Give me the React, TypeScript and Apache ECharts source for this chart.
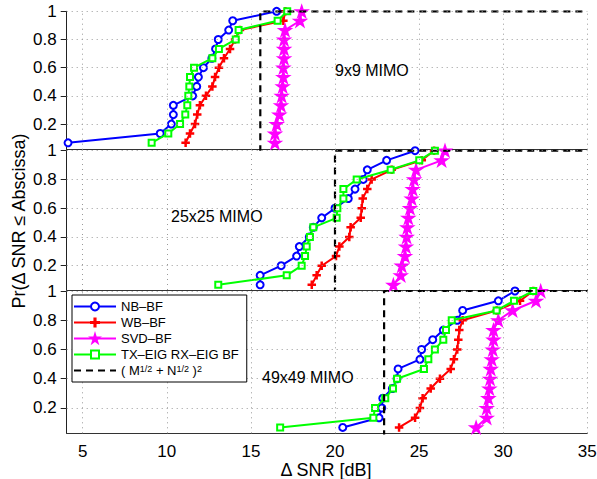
import React, { useEffect, useRef } from "react";
import * as echarts from "echarts";

// ---------- data ----------
const PROB = [0.067, 0.133, 0.2, 0.267, 0.333, 0.4, 0.467, 0.533, 0.6, 0.667, 0.733, 0.8, 0.867, 0.933, 1];

const NB_9 = [4.13, 9.61, 10.27, 10.39, 10.39, 11.54, 11.78, 11.88, 12.18, 12.68, 12.9, 13.06, 13.68, 13.92, 16.53];
const WB_9 = [11.12, 11.38, 11.68, 11.81, 11.97, 12.33, 12.71, 12.87, 13.1, 13.4, 13.76, 14.06, 14.35, 16.93, 17.05];
const SVD_9 = [16.43, 16.43, 16.53, 16.69, 16.79, 16.83, 16.89, 16.93, 16.93, 16.97, 16.97, 16.97, 17.03, 17.92, 18.02];
const TX_9 = [9.1, 10.09, 10.79, 11.1, 11.22, 11.28, 11.34, 11.38, 11.62, 12.71, 13.1, 14.1, 14.27, 16.59, 17.16];

const NB_25 = [15.55, 15.55, 16.8, 17.72, 17.88, 18.47, 18.71, 19.21, 20.0, 20.79, 21.19, 21.68, 21.92, 23.07, 24.76];
const WB_25 = [18.62, 18.91, 19.21, 20.06, 20.26, 20.85, 20.93, 21.53, 21.59, 21.65, 21.92, 22.18, 23.37, 25.16, 25.89];
const SVD_25 = [23.47, 23.91, 23.97, 24.16, 24.22, 24.26, 24.3, 24.36, 24.46, 24.56, 24.62, 24.7, 24.82, 26.34, 26.54];
const TX_25 = [13.06, 17.13, 18.02, 18.22, 18.32, 18.51, 18.71, 20.1, 20.14, 20.5, 20.5, 21.29, 23.31, 25.01, 25.94];

const NB_49 = [20.46, 22.62, 22.78, 22.84, 23.41, 23.69, 23.75, 25.05, 25.15, 25.81, 26.44, 27.27, 27.59, 29.71, 30.7];
const WB_49 = [23.81, 24.76, 25.05, 25.21, 25.69, 26.24, 26.88, 27.07, 27.27, 27.33, 27.39, 27.59, 29.61, 31.0, 31.79];
const SVD_49 = [28.39, 29.02, 29.02, 29.12, 29.18, 29.22, 29.26, 29.32, 29.38, 29.42, 29.42, 29.71, 30.56, 31.95, 32.23];
const TX_49 = [16.74, 22.28, 22.38, 22.99, 23.45, 23.69, 25.29, 25.55, 25.94, 26.44, 26.6, 26.94, 29.61, 30.64, 31.79];

const BOUNDS = [15.56, 20, 22.92];
const PANEL_LABELS = ["9x9 MIMO", "25x25 MIMO", "49x49 MIMO"];
const SERIES_NAMES = ["NB\u2013BF", "WB\u2013BF", "SVD\u2013BF", "TX\u2013EIG RX\u2013EIG BF"];
const BOUND_NAME = "( M^1/2 + N^1/2 )^2";
const PANEL_DATA = [
  [NB_9, WB_9, SVD_9, TX_9],
  [NB_25, WB_25, SVD_25, TX_25],
  [NB_49, WB_49, SVD_49, TX_49],
];
const X_MIN = 4.05;
const X_MAX = 35;
const X_TICKS = [5, 10, 15, 20, 25, 30, 35];
const Y_MINS = [0.018, 0.031, 0.027];
const Y_TICKS = [0.2, 0.4, 0.6, 0.8, 1];

// ---------- styling ----------
const FONT = "'Liberation Sans', Arial, Helvetica, sans-serif";
const COLORS = ["#0000ff", "#ff0000", "#ff00ff", "#00ff00"];
const STAR =
  "path://M0,-1L0.2245,-0.309L0.951,-0.309L0.3633,0.118L0.5878,0.809L0,0.382L-0.5878,0.809L-0.3633,0.118L-0.951,-0.309L-0.2245,-0.309Z";
const PLUS = "path://M-0.5,-3.5H0.5V-0.5H3.5V0.5H0.5V3.5H-0.5V0.5H-3.5V-0.5H-0.5Z";
const SYMBOLS = ["emptyCircle", PLUS, STAR, "emptyRect"];
const SYMBOL_SIZES = [7, 7, 12, 6];

const GRID_LEFT = 66.7;
const GRID_WIDTH = 520.6;
const GRID_TOPS = [11.3, 150.7, 291];
const GRID_HEIGHTS = [138.4, 139.3, 142.3];

export default function App() {
  const ref = useRef<HTMLDivElement>(null);

  useEffect(() => {
    if (!ref.current) return;
    const chart = echarts.init(ref.current, undefined, { renderer: "svg" });

    const grids = GRID_TOPS.map((top, g) => ({
      left: GRID_LEFT,
      top,
      width: GRID_WIDTH,
      height: GRID_HEIGHTS[g],
      containLabel: false,
      outerBoundsMode: "none",
    }));

    const gridLineStyle = { color: "#9a9a9a", type: [1, 4], width: 1 };

    const xAxes = GRID_TOPS.map((_, g) => ({
      type: "value",
      gridIndex: g,
      min: X_MIN,
      max: X_MAX,
      axisLine: { show: true, onZero: false, lineStyle: { color: "#333", width: 1 } },
      axisTick: { show: false, customValues: X_TICKS },
      axisLabel: {
        show: g === 2,
        customValues: X_TICKS,
        fontSize: 17,
        fontFamily: FONT,
        color: "#000",
        margin: 10,
        formatter: (v: number) => String(Math.round(v)),
      },
      splitLine: { show: false },
    }));

    const yAxes = GRID_TOPS.map((_, g) => ({
      type: "value",
      gridIndex: g,
      min: Y_MINS[g],
      max: 1,
      axisLine: { show: true, onZero: false, lineStyle: { color: "#222", width: 1 } },
      axisTick: {
        show: true,
        inside: false,
        length: 6,
        customValues: Y_TICKS,
        lineStyle: { color: "#222" },
      },
      axisLabel: {
        customValues: Y_TICKS,
        fontSize: 17,
        fontFamily: FONT,
        color: "#000",
        margin: 10,
        formatter: (v: number) => (v > 0.99 ? "1" : v.toFixed(1)),
      },
      splitLine: { show: false },
    }));

    const series: any[] = [];
    PANEL_DATA.forEach((panel, g) => {
      // dotted grid lines drawn through the axes' own scales
      series.push({
        type: "line",
        name: "grid" + g,
        xAxisIndex: g,
        yAxisIndex: g,
        data: [],
        silent: true,
        z: 1,
        markLine: {
          silent: true,
          symbol: "none",
          label: { show: false },
          lineStyle: gridLineStyle,
          emphasis: { disabled: true },
          data: [
            ...X_TICKS.map((x) => ({ xAxis: x })),
            ...Y_TICKS.map((y) => ({ yAxis: y })),
          ],
        },
      });
      panel.forEach((xs, m) => {
        series.push({
          type: "line",
          name: SERIES_NAMES[m],
          xAxisIndex: g,
          yAxisIndex: g,
          data: xs.map((x, i) => [x, PROB[i]]),
          symbol: SYMBOLS[m],
          symbolSize: SYMBOL_SIZES[m],
          symbolKeepAspect: true,
          showAllSymbol: true,
          lineStyle: { color: COLORS[m], width: 2 },
          itemStyle: { color: COLORS[m], borderColor: COLORS[m], borderWidth: 1.5 },
          emphasis: { disabled: true },
          z: 2 + m * 0.1,
        });
      });
      series.push({
        type: "line",
        name: BOUND_NAME,
        xAxisIndex: g,
        yAxisIndex: g,
        data: [
          [BOUNDS[g], 0],
          [BOUNDS[g], 1],
          [X_MAX, 1],
        ],
        symbol: "none",
        lineStyle: { color: "#000", width: 2.2, type: [7, 5] },
        itemStyle: { color: "#000" },
        emphasis: { disabled: true },
        z: 3,
      });
    });

    const graphic: any[] = [
      {
        type: "text",
        x: 18.5,
        y: 221,
        rotation: Math.PI / 2,
        style: {
          text: "Pr(\u0394 SNR \u2264 Abscissa)",
          fontSize: 18,
          fontFamily: FONT,
          fill: "#000",
          align: "center",
          verticalAlign: "middle",
        },
      },
      {
        type: "text",
        x: 326,
        y: 470,
        style: {
          text: "\u0394 SNR [dB]",
          fontSize: 18,
          fontFamily: FONT,
          fill: "#000",
          align: "center",
          verticalAlign: "middle",
        },
      },
    ];
    const labelPos = [
      [335, 70],
      [171, 216],
      [262, 377],
    ];
    PANEL_LABELS.forEach((t, g) => {
      graphic.push({
        type: "text",
        x: labelPos[g][0],
        y: labelPos[g][1],
        z: 10,
        style: {
          text: t,
          fontSize: 16,
          fontFamily: FONT,
          fill: "#000",
          align: "left",
          verticalAlign: "middle",
        },
      });
    });

    chart.setOption({
      animation: false,
      backgroundColor: "#fff",
      grid: grids,
      xAxis: xAxes,
      yAxis: yAxes,
      series,
      graphic,
      legend: {
        show: true,
        data: [
          ...SERIES_NAMES,
          { name: BOUND_NAME, itemStyle: { opacity: 0 } },
        ],
        orient: "vertical",
        left: 72,
        top: 295,
        padding: [5, 8, 5, 1],
        itemWidth: 42,
        itemHeight: 10,
        itemGap: 3,
        borderColor: "#000",
        borderWidth: 1,
        backgroundColor: "#fff",
        selectedMode: false,
        z: 20,
        formatter: (name: string) =>
          name === BOUND_NAME ? "( M{sup|1/2} + N{sup|1/2} ){sup|2}" : name,
        textStyle: {
          fontFamily: FONT,
          fontSize: 13,
          color: "#000",
          lineHeight: 13,
          rich: {
            sup: { fontFamily: FONT, fontSize: 9, color: "#000", verticalAlign: "top", lineHeight: 9 },
          },
        },
      },
    });

    return () => chart.dispose();
  }, []);

  return (
    <div
      ref={ref}
      style={{ position: "fixed", left: 0, top: 0, width: 597, height: 479, background: "#fff" }}
    />
  );
}
